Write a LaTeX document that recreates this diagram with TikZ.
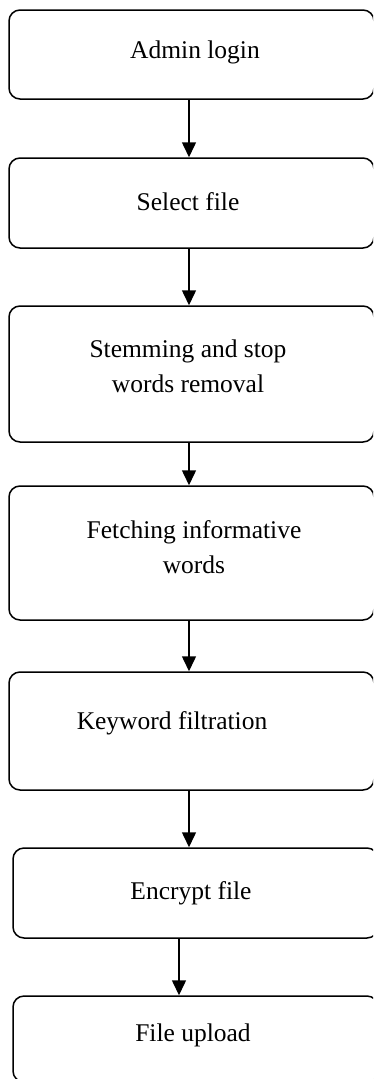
\documentclass[tikz,border=0pt]{standalone}
\usepackage{fontspec}
\setmainfont{Liberation Serif}
\usetikzlibrary{arrows.meta}
\tikzset{
  box/.style={draw, line width=1.5pt, rounded corners=11pt, inner sep=0pt},
  lbl/.style={inner sep=0pt, align=center, font=\fontsize{25.5}{35}\selectfont},
  arr/.style={line width=1.5pt, -{Triangle[width=14pt,length=15pt]}}
}
\begin{document}
\begin{tikzpicture}[x=1pt,y=1pt]
  \clip (0,0) rectangle (373,-1079);
  \fill[white] (0,0) rectangle (373,-1079);
  % process boxes
  \node[box, minimum width=365pt, minimum height=89pt]  (b1) at (191.5,-54.5) {};
  \node[box, minimum width=365pt, minimum height=90pt]  (b2) at (191.5,-203) {};
  \node[box, minimum width=365pt, minimum height=136pt] (b3) at (191.5,-374) {};
  \node[box, minimum width=365pt, minimum height=134pt] (b4) at (191.5,-553) {};
  \node[box, minimum width=365pt, minimum height=118pt] (b5) at (191.5,-731) {};
  \node[box, minimum width=365pt, minimum height=90pt]  (b6) at (195.5,-893) {};
  \node[box, minimum width=365pt, minimum height=86pt]  (b7) at (195.5,-1039) {};
  % box texts
  \node[lbl] (t1) at (195,-52)  {Admin login};
  \node[lbl] (t2) at (188,-202) {Select file};
  \node[lbl] (t3) at (188,-366) {Stemming and stop\\words removal};
  \node[lbl] (t4) at (194,-547) {Fetching informative\\words};
  \node[lbl] (t5) at (172,-723) {Keyword filtration};
  \node[lbl] (t6) at (191,-893) {Encrypt file};
  \node[lbl] (t7) at (193,-1035) {File upload};
  % flow arrows
  \draw[arr] ([xshift=-2.5pt]b1.south) -- ([xshift=-2.5pt]b2.north);
  \draw[arr] ([xshift=-2.5pt]b2.south) -- ([xshift=-2.5pt]b3.north);
  \draw[arr] ([xshift=-2.5pt]b3.south) -- ([xshift=-2.5pt]b4.north);
  \draw[arr] ([xshift=-2.5pt]b4.south) -- ([xshift=-2.5pt]b5.north);
  \draw[arr] ([xshift=-2.5pt]b5.south) -- ([xshift=-6.5pt]b6.north);
  \draw[arr] ([xshift=-16.5pt]b6.south) -- ([xshift=-16.5pt]b7.north);
\end{tikzpicture}
\end{document}
